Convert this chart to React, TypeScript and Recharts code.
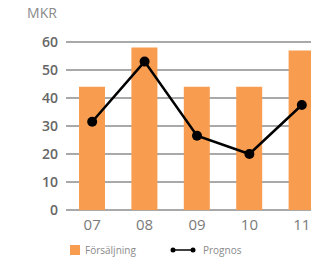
import { ComposedChart, Bar, Line, XAxis, YAxis, CartesianGrid, Legend } from 'recharts';

const categories = ['07', '08', '09', '10', '11'];
const salesValues = [44, 58, 44, 44, 57];
const forecastValues = [31.5, 53, 26.5, 20, 37.5];
const yTicks = [0, 10, 20, 30, 40, 50, 60];

const data = categories.map((year, i) => ({
  year,
  sales: salesValues[i],
  forecast: forecastValues[i],
}));

const ORANGE = '#f89d4f';
const FONT = '"Open Sans", sans-serif';

function ChartLegend() {
  const text = { position: 'absolute' as const, top: 2, fontSize: 10, color: '#8a8a8a', fontFamily: FONT, lineHeight: '14px' };
  return (
    <div style={{ position: 'relative', height: 20, width: 311 }}>
      <div style={{ position: 'absolute', left: 70, top: 4, width: 10, height: 10, background: ORANGE }} />
      <span style={{ ...text, left: 85 }}>Försäljning</span>
      <svg style={{ position: 'absolute', left: 170, top: 4 }} width={26} height={10}>
        <line x1={3} y1={5} x2={23} y2={5} stroke="#000" strokeWidth={1.5} />
        <circle cx={3} cy={5} r={2.5} fill="#000" />
        <circle cx={23} cy={5} r={2.5} fill="#000" />
      </svg>
      <span style={{ ...text, left: 203 }}>Prognos</span>
    </div>
  );
}

export default function App() {
  return (
    <div style={{ position: 'absolute', top: 0, left: 0, width: 311, height: 261, overflow: 'hidden', background: '#fff' }}>
      <ComposedChart width={328} height={261} data={data} margin={{ top: 42, right: 0, bottom: 0, left: 0 }}>
        <CartesianGrid vertical={false} stroke="#8c8c8c" strokeWidth={1.5} />
        <XAxis
          dataKey="year"
          axisLine={false}
          tickLine={false}
          tickSize={0}
          tickMargin={9}
          height={31}
          tick={{ fontSize: 15, fill: '#7a7a7a', fontFamily: FONT }}
        />
        <YAxis
          domain={[0, 60]}
          ticks={yTicks}
          width={66}
          axisLine={false}
          tickLine={false}
          tickSize={0}
          tickMargin={8}
          tick={{ fontSize: 14, fill: '#666', fontWeight: 600, fontFamily: FONT }}
          label={{ value: 'MKR', position: 'top', offset: 24, dx: 9, fontSize: 14, fill: '#8a8a8a', fontFamily: FONT }}
        />
        <Legend verticalAlign="bottom" align="left" content={() => <ChartLegend />} />
        <Bar dataKey="sales" fill={ORANGE} barSize={26} isAnimationActive={false} />
        <Line
          dataKey="forecast"
          stroke="#000"
          strokeWidth={2.5}
          dot={{ r: 5, fill: '#000', stroke: '#000', strokeWidth: 0 }}
          activeDot={false}
          isAnimationActive={false}
        />
      </ComposedChart>
    </div>
  );
}
